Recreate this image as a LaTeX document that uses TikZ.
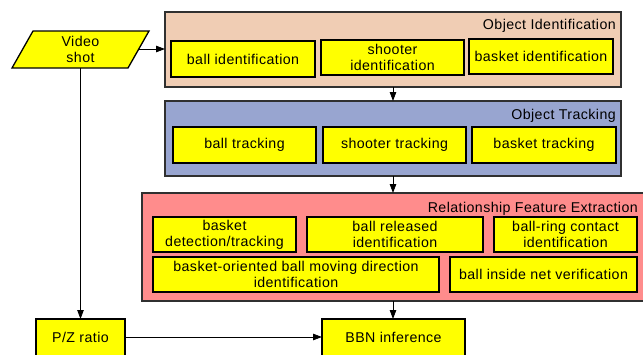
\documentclass[tikz,border=0pt]{standalone}
\usepackage{fontspec}
\setmainfont{Liberation Sans}[LetterSpace=3]
\usetikzlibrary{arrows.meta,shapes.geometric}
\definecolor{peach}{HTML}{F0CDB4}
\definecolor{steel}{HTML}{98A5D0}
\definecolor{salmon}{HTML}{FF8C8C}
\definecolor{yel}{HTML}{FFFF00}
\definecolor{edge}{HTML}{303030}
\begin{document}
\begin{tikzpicture}[x=1pt,y=-1pt,
  groupbox/.style={draw=edge,line width=1.3pt},
  inbox/.style={draw=black,fill=yel,line width=1.6pt},
  lbl/.style={font=\fontsize{14.2}{16}\selectfont,align=center,inner sep=0pt},
  ttl/.style={font=\fontsize{14.2}{16}\selectfont,anchor=east,inner sep=0pt},
  conn/.style={draw=black,line width=0.8pt,-{Triangle[length=9pt,width=6.5pt]}}]
\useasboundingbox (0,0) rectangle (643,354);
\begin{scope}
\clip (0,0) rectangle (643,354);
% Video shot
\draw[inbox,line width=1.3pt] (33,31) -- (149,31) -- (128,68) -- (12,68) -- cycle;
\node[lbl] (video) at (80.5,49.5) {Video\\shot};
\coordinate (vr) at (139,49);
\coordinate (vb) at (80.5,68);
% Object Identification
\draw[groupbox,fill=peach] (165,12) rectangle (621,87);
\node[ttl] (oit) at (616,25.5) {Object Identification};
\draw[inbox] (171,41) rectangle (315,77);
\node[lbl] (bi) at (243,59) {ball identification};
\draw[inbox] (321,40) rectangle (464,75);
\node[lbl] (si) at (392.5,57.5) {shooter\\identification};
\draw[inbox] (469,39) rectangle (613,74);
\node[lbl] (ki) at (541,56.5) {basket identification};
\coordinate (oib) at (393,87);
% Object Tracking
\draw[groupbox,fill=steel] (165,101) rectangle (621,176);
\coordinate (ott) at (393,101);
\coordinate (otb) at (393,176);
\node[ttl] (ott2) at (616,115.5) {Object Tracking};
\draw[inbox] (173,127) rectangle (316,163);
\node[lbl] (bt) at (244.5,145) {ball tracking};
\draw[inbox] (323,127) rectangle (466,163);
\node[lbl] (st) at (394.5,145) {shooter tracking};
\draw[inbox] (472,127) rectangle (616,163);
\node[lbl] (kt) at (544,145) {basket tracking};
% Relationship Feature Extraction
\draw[groupbox,fill=salmon] (142,193) rectangle (650,301);
\coordinate (rft) at (393,193);
\coordinate (rfb) at (393,301);
\node[ttl] (rfet) at (638,208.5) {Relationship Feature Extraction};
\draw[inbox] (153,217) rectangle (296,252);
\node[lbl] (kd) at (224.5,234.5) {basket\\detection/tracking};
\draw[inbox] (307,217) rectangle (483,252);
\node[lbl] (br) at (395,234.5) {ball released\\identification};
\draw[inbox] (494,217) rectangle (637,252);
\node[lbl] (rc) at (565.5,234.5) {ball-ring contact\\identification};
\draw[inbox] (153,257) rectangle (439,292);
\node[lbl] (bm) at (296,274.5) {basket-oriented ball moving direction\\identification};
\draw[inbox] (450,257) rectangle (637,292);
\node[lbl] (bn) at (543.5,274.5) {ball inside net verification};
% Bottom boxes
\draw[inbox] (36,319) rectangle (125,370);
\node[lbl] (pz) at (80.5,337) {P/Z ratio};
\coordinate (pzt) at (80.5,319);
\coordinate (pzr) at (125,337);
\draw[inbox] (322,319) rectangle (465,370);
\node[lbl] (bbn) at (393.5,337) {BBN inference};
\coordinate (bbt) at (393,319);
\coordinate (bbl) at (322,337);
\coordinate (oil) at (165,49);
% connectors
\draw[conn] (vr) -- (oil);
\draw[conn] (oib) -- (ott);
\draw[conn] (otb) -- (rft);
\draw[conn] (rfb) -- (bbt);
\draw[conn] (vb) -- (pzt);
\draw[conn] (pzr) -- (bbl);
\end{scope}
\end{tikzpicture}
\end{document}
